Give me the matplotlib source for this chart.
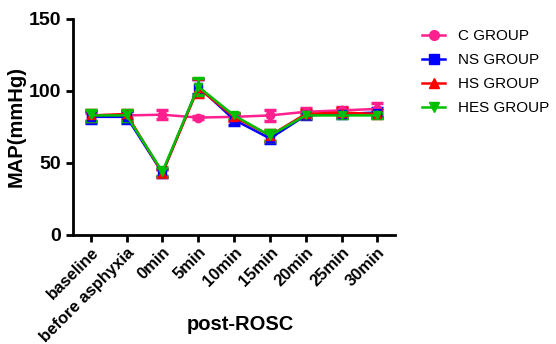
import matplotlib
matplotlib.use("Agg")
import matplotlib.pyplot as plt
from matplotlib.lines import Line2D

# ---- data ----
categories = ["baseline", "before asphyxia", "0min", "5min", "10min",
              "15min", "20min", "25min", "30min"]
c_mean = [82, 83, 83.5, 81.5, 82, 83, 85.5, 86.5, 87.5]
c_err = [3, 3, 3, 1, 2, 4, 2.5, 2.5, 4]
ns_mean = [82, 82, 43, 103, 80, 67, 83, 84, 85]
ns_err = [4, 4, 3, 5, 4, 3, 2.5, 2.5, 3]
hs_mean = [83, 84, 43, 102, 82, 69, 84, 85, 84]
hs_err = [4, 3, 3, 6, 3, 4, 3, 3, 3]
hes_mean = [83, 83, 44, 103, 83, 69, 83, 83, 83]
hes_err = [4, 4, 3, 6, 2, 4, 2, 2, 2]

series = [
    ("C GROUP", c_mean, c_err, "#ff1f8e", "o"),
    ("NS GROUP", ns_mean, ns_err, "#0000ff", "s"),
    ("HS GROUP", hs_mean, hs_err, "#ff0000", "^"),
    ("HES GROUP", hes_mean, hes_err, "#00c000", "v"),
]

plt.rcParams["font.family"] = ["Liberation Sans", "DejaVu Sans"]

fig = plt.figure(figsize=(5.56, 3.44), dpi=100)
ax = fig.add_axes([0.131, 0.317, 0.58, 0.628])

x = list(range(len(categories)))
handles = []
for label, mean, err, color, marker in series:
    ax.errorbar(x, mean, yerr=err, color=color, marker=marker, markersize=6,
                linewidth=1.8, elinewidth=2, capsize=4, capthick=2.5)
    handles.append(Line2D([], [], color=color, marker=marker, markersize=7,
                          linewidth=1.8, label=label))

ax.set_ylim(0, 150)
ax.set_yticks([0, 50, 100, 150])
ax.set_xlim(-0.5, len(categories) - 0.5)
ax.set_xticks(x)
ax.set_xticklabels(categories, rotation=45, ha="right", rotation_mode="anchor",
                   fontsize=12, fontweight="bold")
for t in ax.get_yticklabels():
    t.set_fontweight("bold")
    t.set_fontsize(14)

ax.spines["top"].set_visible(False)
ax.spines["right"].set_visible(False)
ax.spines["left"].set_linewidth(2)
ax.spines["bottom"].set_linewidth(2)
ax.tick_params(axis="both", width=2, length=5, direction="out")
ax.tick_params(axis="x", pad=2)

ax.set_ylabel("MAP(mmHg)", fontsize=14.5, fontweight="bold", labelpad=2)
ax.set_xlabel("post-ROSC", fontsize=14.5, fontweight="bold")
ax.xaxis.set_label_coords(0.52, -0.37)

fig.legend(handles=handles, loc="upper left", bbox_to_anchor=(0.735, 0.955),
           frameon=False, fontsize=11, handlelength=1.5, labelspacing=0.65,
           handletextpad=0.8)

fig.savefig("out.png", dpi=100)
